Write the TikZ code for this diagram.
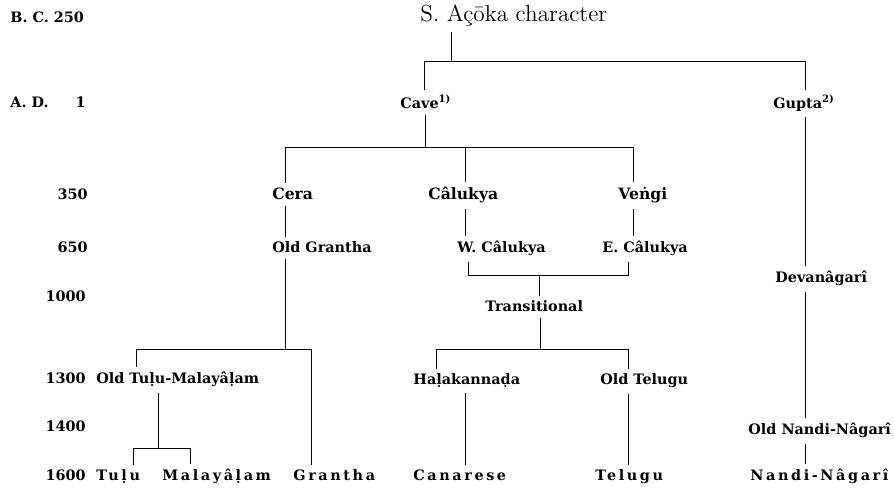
\documentclass[tikz,border=0pt]{standalone}
\usepackage{fontspec}
\usepackage{tikz}
\newfontfamily\tabfont{DejaVu Serif}
\newfontfamily\spacedfont[LetterSpace=18]{DejaVu Serif}

\tikzset{
  lbl/.style={font=\tabfont\bfseries\fontsize{7.2}{9}\selectfont, inner xsep=0pt, inner ysep=2.5pt, anchor=base west},
  biglbl/.style={lbl, font=\tabfont\bfseries\fontsize{7.8}{10}\selectfont},
  spacedlbl/.style={lbl, font=\spacedfont\bfseries\fontsize{7.2}{9}\selectfont},
  year/.style={lbl, anchor=base east},
  branch/.style={line width=0.5pt}
}

\begin{document}
\begin{tikzpicture}[x=0.5pt, y=-0.5pt]
\useasboundingbox (0,0) rectangle (894,490);

% dates
\node[year, anchor=base west] (bc) at (10,23) {B. C. 250};
\node[year, anchor=base west] (ad) at (10,108) {A. D.};
\node[year] (adone) at (86,108) {1};
\node[year] (y350) at (88,200) {350};
\node[year] (y650) at (88,253) {650};
\node[year] (y1000) at (86,302) {1000};
\node[year] (y1300) at (86,384) {1300};
\node[year] (y1400) at (86,432) {1400};
\node[year] (y1600) at (86,481) {1600};

% scripts
\node[lbl, font=\fontsize{11.6}{14}\selectfont] (title) at (420,22) {S. Açōka character};
\node[lbl] (cave) at (400,109) {Cave\textsuperscript{1)}};
\node[lbl] (gupta) at (773,109) {Gupta\textsuperscript{2)}};
\node[biglbl] (cera) at (272,200) {Cera};
\node[biglbl] (calukya) at (428,200) {Câlukya};
\node[biglbl] (vengi) at (618,200) {Veṅgi};
\node[lbl] (oldgr) at (272,253) {Old Grantha};
\node[lbl] (wcal) at (457,253) {W. Câlukya};
\node[lbl] (ecal) at (602,253) {E. Câlukya};
\node[lbl] (devan) at (775,283) {Devanâgarî};
\node[lbl] (trans) at (485,312) {Transitional};
\node[lbl] (oldtulu) at (96,384) {Old Tuḷu-Malayâḷam};
\node[lbl] (halak) at (413,385) {Haḷakannaḍa};
\node[lbl] (oldtel) at (600,385) {Old Telugu};
\node[lbl] (oldnandi) at (748,435) {Old Nandi-Nâgarî};
\node[spacedlbl] (tulu) at (96,481) {Tuḷu};
\node[spacedlbl] (malay) at (162,481) {Malayâḷam};
\node[spacedlbl] (grantha) at (293,481) {Grantha};
\node[spacedlbl] (canarese) at (413,481) {Canarese};
\node[spacedlbl] (telugu) at (595,481) {Telugu};
\node[spacedlbl] (nandi) at (750,481) {Nandi-Nâgarî};

% junctions
\coordinate (jA) at (451,62);
\coordinate (jAl) at (424,62);
\coordinate (jAr) at (805,62);
\coordinate (jB) at (425,148);
\coordinate (jBl) at (285,148);
\coordinate (jBm) at (465,148);
\coordinate (jBr) at (633,148);
\coordinate (jC) at (285,350);
\coordinate (jCl) at (136,350);
\coordinate (jCr) at (311,350);
\coordinate (jD) at (539,276);
\coordinate (jDl) at (468,276);
\coordinate (jDr) at (628,276);
\coordinate (jE) at (540,350);
\coordinate (jEl) at (436,350);
\coordinate (jEr) at (628,350);
\coordinate (jF) at (158,449);
\coordinate (jFl) at (133,449);
\coordinate (jFr) at (190,449);
\coordinate (colH) at (465,420);

% lines
\draw[branch] (jA |- title.south) -- (jA);
\draw[branch] (jAl |- cave.north) -- (jAl) -- (jAr) -- (jAr |- gupta.north);
\draw[branch] (jB |- cave.south) -- (jB);
\draw[branch] (jBl |- cera.north) -- (jBl) -- (jBr) -- (jBr |- vengi.north);
\draw[branch] (jBm) -- (jBm |- calukya.north);
\draw[branch] (jBl |- cera.south) -- (jBl |- oldgr.north);
\draw[branch] (jBm |- calukya.south) -- (jBm |- wcal.north);
\draw[branch] (jBr |- vengi.south) -- (jBr |- ecal.north);
\draw[branch] (jDl |- wcal.south) -- (jDl) -- (jDr) -- (jDr |- ecal.south);
\draw[branch] (jD) -- (jD |- trans.north);
\draw[branch] (jE |- trans.south) -- (jE);
\draw[branch] (jEl |- halak.north) -- (jEl) -- (jEr) -- (jEr |- oldtel.north);
\draw[branch] (colH |- halak.south) -- (colH |- canarese.north);
\draw[branch] (jEr |- oldtel.south) -- (jEr |- telugu.north);
\draw[branch] (jC |- oldgr.south) -- (jC);
\draw[branch] (jCl |- oldtulu.north) -- (jCl) -- (jCr) -- (jCr |- grantha.north);
\draw[branch] (jF |- oldtulu.south) -- (jF);
\draw[branch] (jFl |- tulu.north) -- (jFl) -- (jFr) -- (jFr |- malay.north);
\draw[branch] (jAr |- gupta.south) -- (jAr |- devan.north);
\draw[branch] (jAr |- devan.south) -- (jAr |- oldnandi.north);
\draw[branch] (jAr |- oldnandi.south) -- (jAr |- nandi.north);
\end{tikzpicture}
\end{document}
